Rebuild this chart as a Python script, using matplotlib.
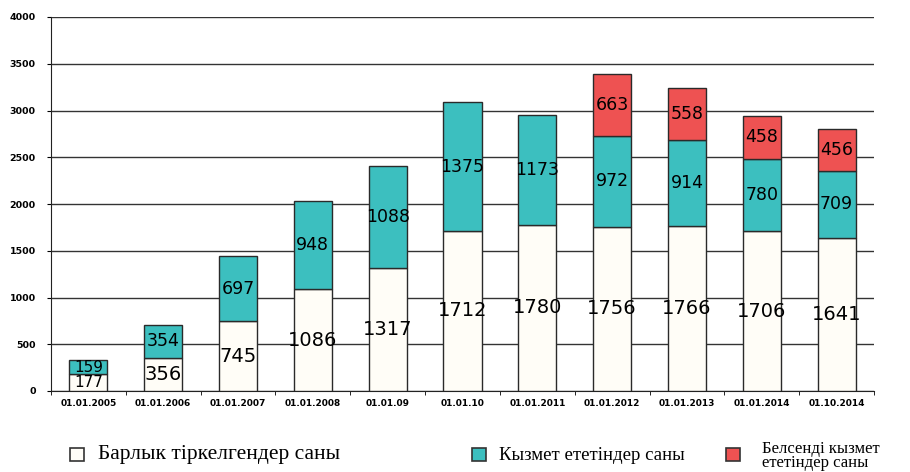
import numpy as np
import matplotlib.pyplot as plt
from matplotlib.patches import Rectangle

dates = ["01.01.2005", "01.01.2006", "01.01.2007", "01.01.2008", "01.01.09",
         "01.01.10", "01.01.2011", "01.01.2012", "01.01.2013", "01.01.2014",
         "01.10.2014"]
registered = [177, 356, 745, 1086, 1317, 1712, 1780, 1756, 1766, 1706, 1641]
serving = [159, 354, 697, 948, 1088, 1375, 1173, 972, 914, 780, 709]
active = [0, 0, 0, 0, 0, 0, 0, 663, 558, 458, 456]

legend_names = ["Барлык тіркелгендер саны", "Кызмет ететіндер саны",
                "Белсенді кызмет\nететіндер саны"]

c_white = "#FFFDF7"
c_teal = "#3CBFBF"
c_red = "#EE5252"
edge = "#2a2a2a"

fig = plt.figure(figsize=(9.1, 4.72), dpi=100)
ax = fig.add_axes([51 / 910, 1 - 391 / 472, 823 / 910, 374 / 472])

x = np.arange(len(dates))
reg = np.array(registered)
srv = np.array(serving)
act = np.array(active)
w = 0.51

ax.bar(x, reg, w, color=c_white, edgecolor=edge, linewidth=1, zorder=3)
ax.bar(x, srv, w, bottom=reg, color=c_teal, edgecolor=edge, linewidth=1, zorder=3)
has_act = act > 0
ax.bar(x[has_act], act[has_act], w, bottom=(reg + srv)[has_act],
       color=c_red, edgecolor=edge, linewidth=1, zorder=3)

# value labels in the middle of each segment (first bar is tiny, so smaller text)
for i in range(len(dates)):
    fs_big, fs_small = (11, 11) if i == 0 else (14, 12.5)
    ax.text(x[i], reg[i] / 2, str(reg[i]), ha="center", va="center",
            fontsize=fs_big, color="black", zorder=4)
    ax.text(x[i], reg[i] + srv[i] / 2, str(srv[i]), ha="center", va="center",
            fontsize=fs_small, color="black", zorder=4)
    if act[i] > 0:
        ax.text(x[i], reg[i] + srv[i] + act[i] / 2, str(act[i]), ha="center",
                va="center", fontsize=fs_small, color="black", zorder=4)

ax.set_xlim(-0.5, len(dates) - 0.5)
ax.set_ylim(0, 4000)
ax.set_yticks(np.arange(0, 4001, 500))
ax.yaxis.grid(True, color="#333333", linewidth=1)
ax.set_axisbelow(True)

for s in ["top", "right"]:
    ax.spines[s].set_visible(False)
ax.spines["left"].set_color("#222222")
ax.spines["bottom"].set_color("#222222")

ax.set_xticks(x)
ax.set_xticklabels(dates, fontsize=6.5, fontweight="bold")
ax.set_xticks(np.arange(-0.5, len(dates)), minor=True)
ax.tick_params(axis="x", which="major", length=0, pad=6)
ax.tick_params(axis="x", which="minor", length=3, direction="out")
ax.tick_params(axis="y", labelsize=6.8, length=3, pad=8)
for t in ax.get_yticklabels():
    t.set_fontweight("bold")

# legend drawn at the bottom of the figure
serif = ["Liberation Serif", "DejaVu Serif"]
boxes = [(70, c_white), (472, c_teal), (726, c_red)]
for px, col in boxes:
    fig.add_artist(Rectangle((px / 910, 1 - 461 / 472), 14 / 910, 13 / 472,
                             transform=fig.transFigure, facecolor=col,
                             edgecolor="#333333", linewidth=1.2))
fig.text(98 / 910, 1 - 454 / 472, legend_names[0], fontsize=15.5, family=serif,
         va="center", ha="left")
fig.text(499 / 910, 1 - 455 / 472, legend_names[1], fontsize=13.5, family=serif,
         va="center", ha="left")
fig.text(762 / 910, 1 - 456 / 472, legend_names[2], fontsize=12, family=serif,
         va="center", ha="left", linespacing=0.9)

fig.savefig("out.png", dpi=100)
